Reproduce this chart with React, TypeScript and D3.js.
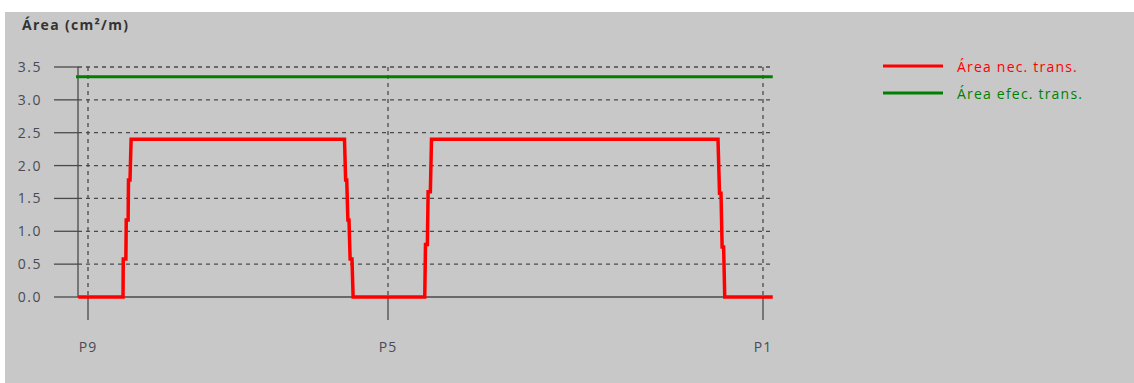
import React from "react";
import * as d3 from "d3";

// Data (x in metres along the beam, y in cm²/m)
const stations = ["P9", "P5", "P1"];
const stationPos = [0, 4.0, 9.0];
const yTicks = [0, 0.5, 1.0, 1.5, 2.0, 2.5, 3.0, 3.5];
const areaNecX = [-0.13, 0.467, 0.47, 0.505, 0.51, 0.535, 0.54, 0.56, 0.575, 3.42, 3.435, 3.45, 3.465, 3.48, 3.495, 3.52, 3.535, 4.49, 4.5, 4.525, 4.535, 4.565, 4.58, 8.4, 8.42, 8.44, 8.455, 8.475, 8.49, 9.13];
const areaNecY = [0, 0, 0.58, 0.58, 1.17, 1.17, 1.78, 1.78, 2.4, 2.4, 1.78, 1.78, 1.17, 1.17, 0.58, 0.58, 0, 0, 0.8, 0.8, 1.6, 1.6, 2.4, 2.4, 1.58, 1.58, 0.76, 0.76, 0, 0];
const areaEfecX = [-0.16, 9.13];
const areaEfecY = [3.35, 3.35];
const legendLabels = ["Área nec. trans.", "Área efec. trans."];
const legendColors = ["#ff0000", "#008000"];

export default function App() {
  const W = 1134, H = 383;
  const x = d3.scaleLinear().domain([0, 9]).range([88, 763]);
  const y = d3.scaleLinear().domain([0, 3.5]).range([297, 67]);
  const x0 = 78, x1 = 771;
  const line = d3.line<[number, number]>().x(d => x(d[0])).y(d => y(d[1]));
  const nec: [number, number][] = areaNecX.map((v, i) => [v, areaNecY[i]]);
  const efec: [number, number][] = areaEfecX.map((v, i) => [v, areaEfecY[i]]);
  const axisColor = "#4a4a4a";
  const font = "'Open Sans', 'Noto Sans', sans-serif";
  return (
    <svg width={W} height={H} style={{ position: "absolute", left: 0, top: 0, background: "#fff" }}>
      <rect x={5} y={12} width={W - 5} height={H - 12} fill="#c8c8c8" />
      <text x={22} y={30} fontFamily={font} fontSize={14} fontWeight="bold" letterSpacing={1.3} fill="#333">Área (cm²/m)</text>
      {/* horizontal grid */}
      {yTicks.map(t => (
        <g key={"y" + t}>
          <line x1={x0} x2={x1} y1={y(t)} y2={y(t)} stroke={axisColor} strokeWidth={1.3}
            strokeDasharray={t === 0 ? undefined : "4,4"} />
          <line x1={54} x2={x0} y1={y(t)} y2={y(t)} stroke={axisColor} strokeWidth={1.3} />
          <text x={42} y={y(t) + 5} textAnchor="end" fontFamily={font} fontSize={14} letterSpacing={1.5} fill="#4a4a55">{t.toFixed(1)}</text>
        </g>
      ))}
      {/* vertical grid */}
      {stationPos.map((p, i) => (
        <g key={"x" + i}>
          <line x1={x(p)} x2={x(p)} y1={y(3.5)} y2={y(0)} stroke={axisColor} strokeWidth={1.3} strokeDasharray="4,4" />
          <line x1={x(p)} x2={x(p)} y1={y(0)} y2={320} stroke={axisColor} strokeWidth={1.3} />
          <text x={x(p)} y={352} textAnchor="middle" fontFamily={font} fontSize={14} letterSpacing={1} fill="#4a4a55">{stations[i]}</text>
        </g>
      ))}
      <line x1={x0} x2={x0} y1={y(3.5)} y2={y(0)} stroke={axisColor} strokeWidth={1.3} />
      <path d={line(efec) || ""} fill="none" stroke={legendColors[1]} strokeWidth={3} />
      <path d={line(nec) || ""} fill="none" stroke={legendColors[0]} strokeWidth={3.5} />
      {legendLabels.map((l, i) => (
        <g key={l}>
          <line x1={883} x2={943} y1={66 + i * 27} y2={66 + i * 27} stroke={legendColors[i]} strokeWidth={3} />
          <text x={957} y={72 + i * 27} fontFamily={font} fontSize={14} letterSpacing={1.2} fill={legendColors[i]}>{l}</text>
        </g>
      ))}
    </svg>
  );
}
